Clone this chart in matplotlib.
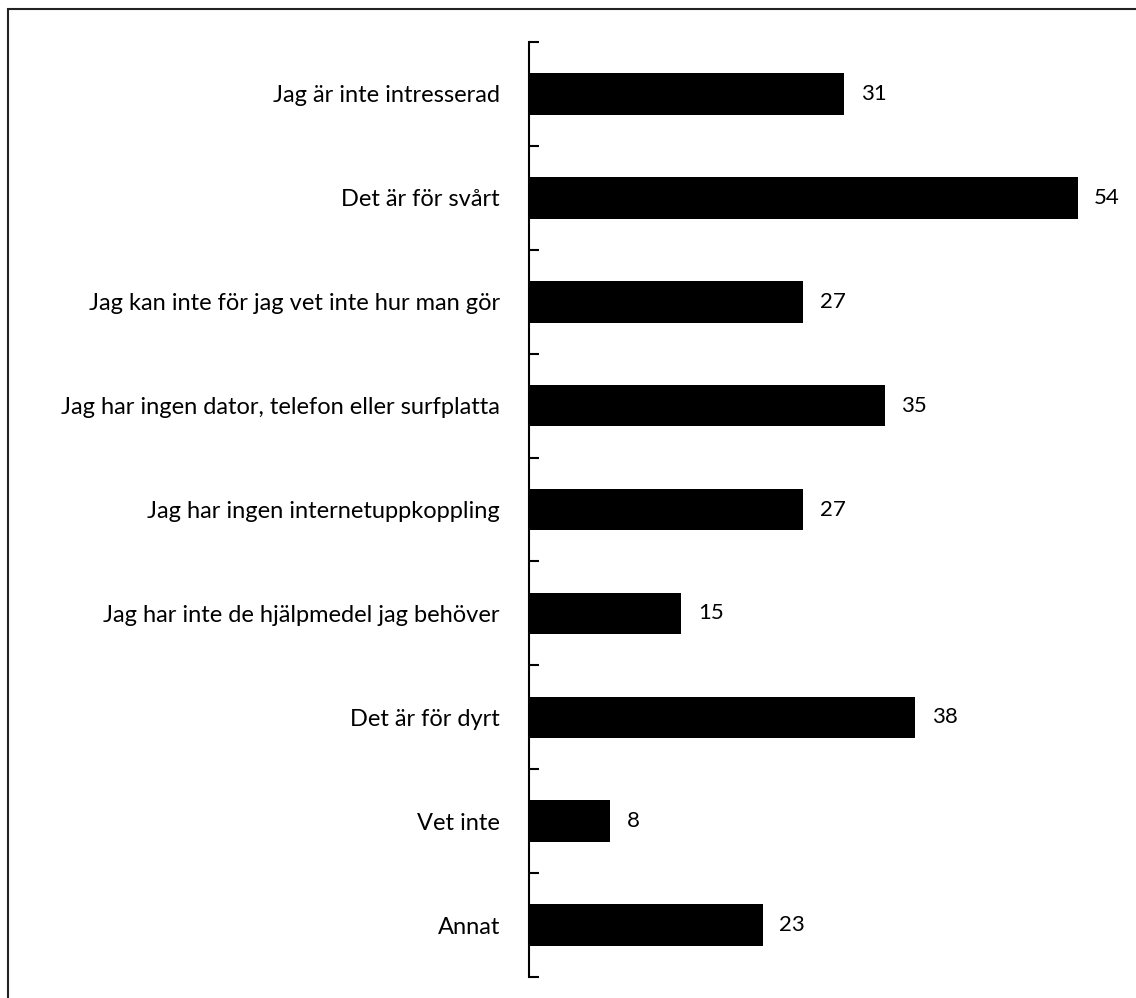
import matplotlib
matplotlib.use("Agg")
import matplotlib.pyplot as plt
from matplotlib.patches import Rectangle

categories = [
    "Jag är inte intresserad",
    "Det är för svårt",
    "Jag kan inte för jag vet inte hur man gör",
    "Jag har ingen dator, telefon eller surfplatta",
    "Jag har ingen internetuppkoppling",
    "Jag har inte de hjälpmedel jag behöver",
    "Det är för dyrt",
    "Vet inte",
    "Annat",
]
values = [31, 54, 27, 35, 27, 15, 38, 8, 23]

plt.rcParams['font.family'] = ['Lato', 'DejaVu Sans']

W, H = 1136, 998
fig = plt.figure(figsize=(W / 100, H / 100), dpi=100)
left_px, right_px, top_px, bot_px = 529, 1108, 42, 977
ax = fig.add_axes([left_px / W, 1 - bot_px / H, (right_px - left_px) / W, (bot_px - top_px) / H])

y = list(range(len(categories)))
ax.barh(y, values, height=0.4, color='black')
ax.set_ylim(len(categories) - 0.5, -0.5)
ax.set_xlim(0, 57)

for yi, v in zip(y, values):
    ax.annotate(str(v), (v, yi), xytext=(12, 0), textcoords='offset points',
                va='center', ha='left', fontsize=16, color='black')

ax.set_yticks(y)
ax.set_yticklabels(categories, fontsize=17)
ax.tick_params(axis='y', which='major', length=0, pad=21)
ax.set_yticks([i - 0.5 for i in range(len(categories) + 1)], minor=True)
ax.tick_params(axis='y', which='minor', length=7, width=1.5, direction='in')
ax.set_xticks([])
for s in ['top', 'right', 'bottom']:
    ax.spines[s].set_visible(False)
ax.spines['left'].set_linewidth(1.5)

rect = Rectangle((8 / W, -0.1), 1.2, 1 - 9 / H + 0.1, transform=fig.transFigure,
                 fill=False, edgecolor='#222222', linewidth=1.5, clip_on=False)
fig.patches.append(rect)

fig.savefig("out.png", dpi=100)
